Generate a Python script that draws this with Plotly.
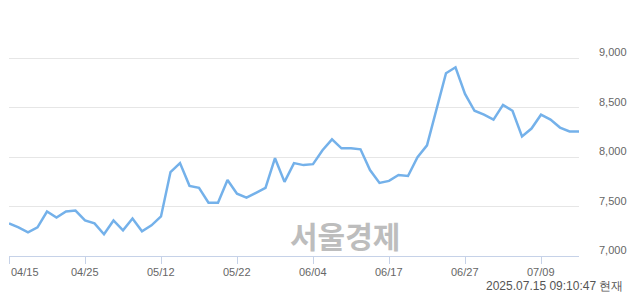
import plotly.graph_objects as go

dates = ["04/15","04/16","04/17","04/18","04/21","04/22","04/23","04/24","04/25","04/28",
         "04/29","04/30","05/02","05/07","05/08","05/09","05/12","05/13","05/14","05/15",
         "05/16","05/19","05/20","05/21","05/22","05/23","05/26","05/27","05/28","05/29",
         "05/30","06/02","06/04","06/05","06/09","06/10","06/11","06/12","06/13","06/16",
         "06/17","06/18","06/19","06/20","06/23","06/24","06/25","06/26","06/27","06/30",
         "07/01","07/02","07/03","07/04","07/07","07/08","07/09","07/10","07/11","07/14",
         "07/15"]
prices = [7330, 7290, 7240, 7290, 7450, 7390, 7450, 7460, 7360, 7330,
          7220, 7360, 7260, 7380, 7250, 7310, 7400, 7850, 7940, 7710,
          7690, 7540, 7540, 7770, 7630, 7590, 7640, 7690, 7990, 7750,
          7940, 7920, 7930, 8070, 8180, 8090, 8090, 8080, 7870, 7740,
          7760, 7820, 7810, 8000, 8120, 8500, 8850, 8910, 8640, 8470,
          8430, 8380, 8530, 8470, 8210, 8290, 8430, 8380, 8300, 8260,
          8260]
x_tick_dates = ["04/15","04/25","05/12","05/22","06/04","06/17","06/27","07/09"]
y_tick_vals = [7000, 7500, 8000, 8500, 9000]
y_grid_vals = [7500, 8000, 8500, 9000, 9500]
watermark = "서울경제"
timestamp = "2025.07.15 09:10:47 현재"

fig = go.Figure()
fig.add_trace(go.Scatter(x=dates, y=prices, mode="lines",
                         line=dict(color="#74b1ea", width=2.5),
                         hoverinfo="skip"))

fig.update_layout(
    width=640, height=294,
    margin=dict(l=9, r=61, t=9, b=38),
    paper_bgcolor="white", plot_bgcolor="white",
    showlegend=False,
    font=dict(family="Liberation Sans, Arial, sans-serif", size=11, color="#666666"),
)
fig.update_xaxes(
    type="category", range=[0, len(dates) - 1],
    tickvals=x_tick_dates, ticktext=[""] * len(x_tick_dates),
    ticks="outside", ticklen=7, tickcolor="#c6d2e8", tickwidth=1,
    showline=True, linecolor="#c6d2e8", linewidth=1,
    showgrid=False, zeroline=False, fixedrange=True,
)
fig.update_yaxes(
    range=[7000, 9500], tickvals=y_grid_vals, showticklabels=False,
    showgrid=True, gridcolor="#e6e6e6", gridwidth=1,
    zeroline=False, showline=False, ticks="", fixedrange=True,
)

annotations = []
for i, d in enumerate(x_tick_dates):
    annotations.append(dict(
        x=d, y=0, xref="x", yref="paper", text=d, showarrow=False,
        xanchor="left" if i == 0 else "center", yanchor="top", yshift=-8,
        font=dict(size=11, color="#666666"),
    ))
for v in y_tick_vals:
    annotations.append(dict(
        x=1, y=v, xref="paper", yref="y", text=f"{v:,}", showarrow=False,
        xanchor="right", yanchor="bottom", xshift=50, yshift=-2,
        font=dict(size=11, color="#666666"),
    ))
annotations.append(dict(
    x=0.589, y=0.085, xref="paper", yref="paper", text=f"<b>{watermark}</b>",
    showarrow=False, xanchor="center", yanchor="middle",
    font=dict(family="Noto Sans CJK KR", size=30, color="#bdbdbd"),
))
annotations.append(dict(
    x=1, y=-0.121, xref="paper", yref="paper", text=timestamp, showarrow=False,
    xanchor="right", yanchor="middle", xshift=46,
    font=dict(size=12, color="#555555"),
))
fig.update_layout(annotations=annotations)

fig.write_html("out.html")
